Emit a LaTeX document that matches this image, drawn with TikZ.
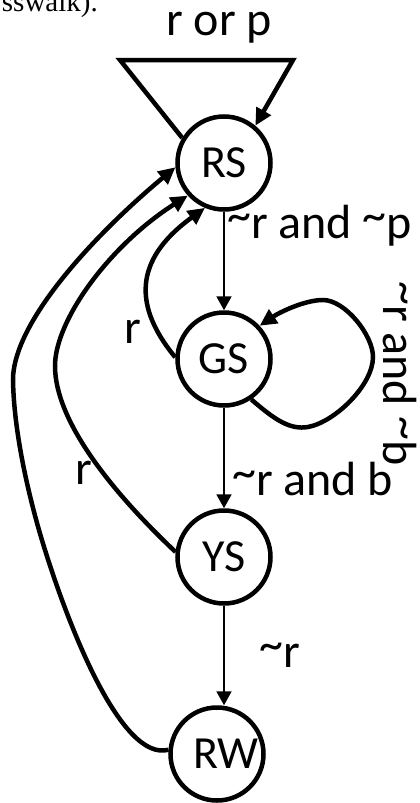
\documentclass[tikz,border=0pt]{standalone}
\usepackage{fontspec}
\setmainfont{Carlito}
\newfontfamily\serifx{Liberation Serif}
\usetikzlibrary{arrows.meta}
\newcommand{\tildeup}{\raisebox{7pt}{\textasciitilde}}
\begin{document}
\begin{tikzpicture}[x=1pt,y=-1pt,
  bigfont/.style={font=\fontsize{46}{50}\selectfont},
  lblfont/.style={font=\fontsize{48}{52}\selectfont},
  state/.style={circle,draw,line width=4.5pt,minimum size=93pt,inner sep=0pt,bigfont},
  thin arrow/.style={line width=2pt,-{Triangle[length=14pt,width=15pt]}},
  thick arrow/.style={line width=4.5pt,-{Triangle[length=17pt,width=16pt]}},
  lbl/.style={inner sep=0pt,anchor=base west,lblfont}]
\useasboundingbox (0,0) rectangle (420,803);
% states
\node[state] (RS) at (224,163) {RS};
\node[state] (GS) at (224,359) {GS};
\node[state] (YS) at (224,557) {YS};
\node[state,label={[xshift=9pt,bigfont]center:RW}] (RW) at (217,754) {};
% straight transitions
\draw[thin arrow] (RS) -- (GS);
\draw[thin arrow] (GS) -- (YS);
\draw[thin arrow] (YS.south) -- (YS.south |- RW.north);
% self loops
\draw[thick arrow] (RS.149) -- (120,60) -- (293,60) -- (RS.50);
\draw[thick arrow] (GS.-56) .. controls (275,420) and (290,430) .. (308,427)
   .. controls (335,422) and (373,385) .. (373,357)
   .. controls (373,335) and (345,300) .. (323,300)
   .. controls (305,300) and (280,312) .. (GS.43);
% back transitions
\draw[thick arrow] (GS.178) .. controls (128,300) and (140,255) .. (RS.247);
\draw[thick arrow] (YS.174) .. controls (110,490) and (55,420) .. (55,366)
   .. controls (55,320) and (110,245) .. (RS.222);
\draw[thick arrow] (RW.175) .. controls (122,762) and (70,630) .. (45,550)
   .. controls (33,512) and (14,440) .. (13,380)
   .. controls (13,320) and (100,230) .. (RS.185);
% labels
\node[lbl] (lrp) at (166,35) {r or p};
\node[lbl] (lrsgs) at (227,238) {\tildeup r and \tildeup p};
\node[lbl] (lgsys) at (232,495) {\tildeup r and b};
\node[lbl] (lysrw) at (259,667) {\tildeup r};
\node[lbl] (lgsrs) at (124,343) {r};
\node[lbl] (lysrs) at (75,484) {r};
\node[lbl,rotate=-90] (lgsgs) at (383,281) {\tildeup r and \tildeup b};
\node[inner sep=0pt,anchor=base east,font=\serifx\fontsize{29}{32}\selectfont] (top) at (98,11.5) {sswalk).};
\end{tikzpicture}
\end{document}
